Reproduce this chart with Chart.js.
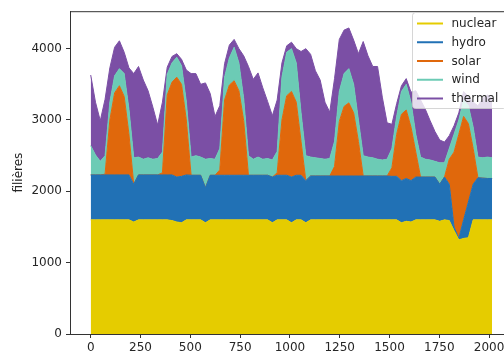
<!DOCTYPE html>
<html><head><meta charset="utf-8">
<script src="https://cdn.jsdelivr.net/npm/chart.js@4.4.1/dist/chart.umd.min.js"></script>
<style>html,body{margin:0;padding:0;background:#fff;overflow:hidden}#wrap{width:504px;height:358px;overflow:hidden;position:relative}canvas{display:block}</style>
</head><body><div id="wrap"><canvas id="c" width="520" height="358" style="width:520px;height:358px"></canvas></div>
<script>
const xValues = [0,24,48,72,96,120,144,168,192,216,240,264,288,312,336,360,384,408,432,456,480,504,528,552,576,600,624,648,672,696,720,744,768,792,816,840,864,888,912,936,960,984,1008,1032,1056,1080,1104,1128,1152,1176,1200,1224,1248,1272,1296,1320,1344,1368,1392,1416,1440,1464,1488,1512,1536,1560,1584,1608,1632,1656,1680,1704,1728,1752,1776,1800,1824,1848,1872,1896,1920,1944,1968,1992,2015];
const nuclear = [1600,1600,1600,1600,1600,1600,1600,1600,1600,1570,1600,1600,1600,1600,1600,1600,1600,1590,1570,1560,1600,1600,1600,1600,1560,1600,1600,1600,1600,1600,1600,1600,1600,1600,1600,1600,1600,1600,1560,1600,1600,1600,1560,1600,1600,1560,1600,1600,1600,1600,1600,1600,1600,1600,1600,1600,1600,1600,1600,1600,1600,1600,1600,1600,1600,1560,1580,1570,1600,1600,1600,1600,1600,1580,1600,1590,1450,1320,1340,1350,1600,1600,1600,1600,1600];
const hydro = [630,630,630,630,630,630,630,630,630,530,630,630,630,630,630,630,630,640,630,650,630,625,625,625,490,625,625,625,625,625,625,625,625,625,625,625,625,625,640,625,625,625,640,625,625,590,615,615,615,615,615,615,615,615,615,615,615,615,615,615,615,615,615,610,610,590,600,580,600,600,600,600,600,520,600,510,50,20,260,500,500,590,585,580,580];
const solar = [0,0,0,10,770,1150,1250,1100,570,0,0,0,0,0,0,30,1120,1300,1400,1290,770,0,0,0,0,0,0,75,1055,1265,1325,1185,765,0,0,0,0,0,0,35,775,1115,1200,1025,475,0,0,0,0,0,0,135,765,975,1025,885,485,0,0,0,0,0,0,120,590,930,960,750,350,0,0,0,0,0,0,350,1050,1460,1450,1100,500,0,0,0,0];
const wind = [410,280,190,260,250,240,240,320,350,370,250,220,240,220,230,290,290,270,280,260,260,255,275,255,400,235,225,300,320,380,470,390,310,275,225,255,225,235,240,300,600,610,600,550,400,350,265,255,245,235,245,350,420,460,480,400,300,285,265,255,235,225,235,270,250,320,360,350,250,280,250,240,220,300,200,150,250,200,230,250,300,290,285,300,290];
const thermal = [990,740,570,790,480,400,390,300,580,1180,1270,1110,940,730,470,700,100,90,50,90,440,1170,1150,1020,1070,910,600,600,190,180,110,200,600,1250,1120,1180,1000,800,620,720,200,90,90,200,860,1500,1440,1220,1100,800,650,880,730,610,570,620,930,1600,1420,1280,1300,880,510,340,180,80,80,140,610,800,700,550,420,320,290,180,120,100,120,130,350,720,830,870,830];
const seriesNames = ['nuclear','hydro','solar','wind','thermal'];
const seriesColors = ['#e5cc00','#2171b5','#e0680c','#6ccbb5','#7b4fa5'];
const xTicks = [0,250,500,750,1000,1250,1500,1750,2000];
const yTicks = [0,1000,2000,3000,4000];

const seriesValues = [nuclear, hydro, solar, wind, thermal];
const datasets = seriesNames.map((name, i) => ({
  label: name,
  data: xValues.map((x, j) => ({x: x, y: seriesValues[i][j]})),
  backgroundColor: seriesColors[i],
  borderColor: seriesColors[i],
  borderWidth: 1,
  pointRadius: 0,
  tension: 0,
  fill: i === 0 ? 'origin' : '-1'
}));

const FONT = '"DejaVu Sans", sans-serif';
const TEXT = '#262626';
const AXIS = '#333333';

const mplLegend = {
  id: 'mplLegend',
  afterDraw(chart) {
    const ctx = chart.ctx;
    const a = chart.chartArea;
    ctx.save();
    ctx.strokeStyle = AXIS; ctx.lineWidth = 1;
    ctx.beginPath(); ctx.moveTo(a.left, a.top + 0.5); ctx.lineTo(a.right, a.top + 0.5); ctx.stroke();
    const lx = 412.5, ly = 12.5, lw = 94, lh = 96;
    ctx.beginPath();
    ctx.roundRect(lx, ly, lw, lh, 3);
    ctx.fillStyle = 'rgba(255,255,255,0.8)';
    ctx.fill();
    ctx.strokeStyle = 'rgba(204,204,204,0.8)';
    ctx.lineWidth = 1;
    ctx.stroke();
    ctx.font = '12px ' + FONT;
    ctx.textBaseline = 'middle';
    ctx.textAlign = 'left';
    chart.data.datasets.forEach((ds, i) => {
      const cy = 23.5 + i * 18.75;
      ctx.strokeStyle = ds.borderColor;
      ctx.lineWidth = 2;
      ctx.beginPath(); ctx.moveTo(417, cy); ctx.lineTo(443, cy); ctx.stroke();
      ctx.fillStyle = TEXT;
      ctx.fillText(ds.label, 451.5, cy + 0.5);
    });
    ctx.restore();
  }
};

new Chart(document.getElementById('c'), {
  type: 'line',
  data: { datasets },
  options: {
    responsive: false,
    devicePixelRatio: 1,
    animation: false,
    events: [],
    layout: { padding: { left: 0, right: 8, top: 7, bottom: 0 } },
    plugins: { legend: { display: false }, tooltip: { enabled: false }, filler: { propagate: false } },
    elements: { line: { tension: 0 } },
    scales: {
      x: {
        type: 'linear',
        min: -104, max: 2115,
        afterBuildTicks: (s) => { s.ticks = xTicks.map(v => ({ value: v })); },
        afterFit: (s) => { s.height = 24; },
        grid: { display: true, drawOnChartArea: false, drawTicks: true, tickLength: 4, color: AXIS },
        border: { display: true, color: AXIS, width: 1 },
        ticks: { color: TEXT, font: { family: FONT, size: 12 }, padding: 3, maxRotation: 0, autoSkip: false, callback: (v) => String(v) }
      },
      y: {
        type: 'linear',
        stacked: true,
        min: 0, max: 4525,
        afterBuildTicks: (s) => { s.ticks = yTicks.map(v => ({ value: v })); },
        afterFit: (s) => { s.width = 70; },
        grid: { display: true, drawOnChartArea: false, drawTicks: true, tickLength: 4, color: AXIS },
        border: { display: true, color: AXIS, width: 1 },
        ticks: { color: TEXT, font: { family: FONT, size: 12 }, padding: 4, autoSkip: false, callback: (v) => String(v) },
        title: { display: true, text: 'filières', color: TEXT, font: { family: FONT, size: 12 }, padding: { top: 12, bottom: 0 } }
      }
    }
  },
  plugins: [mplLegend]
});
</script>
</body></html>
